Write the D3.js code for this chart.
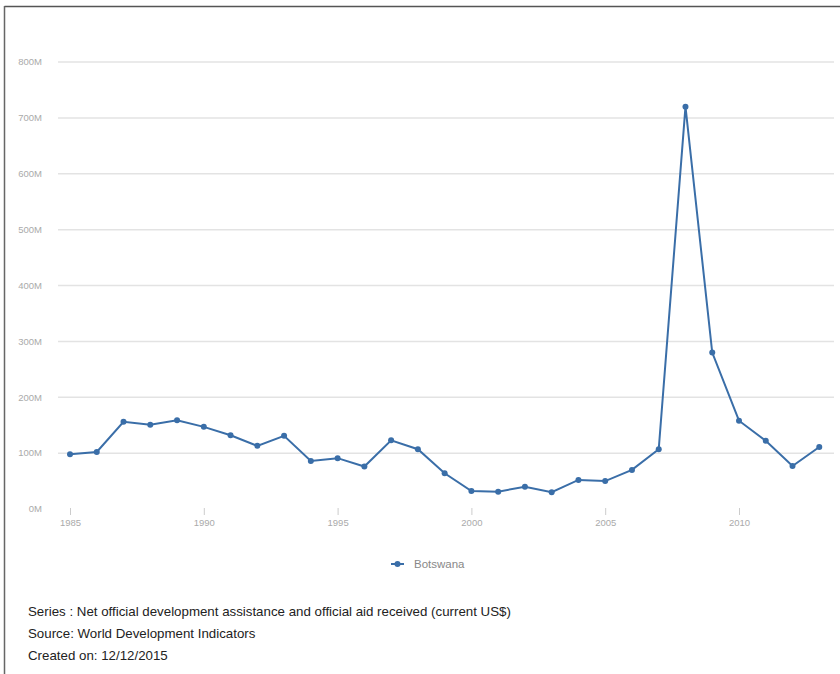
<!DOCTYPE html>
<html><head><meta charset="utf-8">
<script src="https://cdn.jsdelivr.net/npm/d3@7"></script>
<style>body{margin:0;background:#fff;} svg{display:block;}</style>
</head><body>
<svg id="c" width="840" height="674"></svg>
<script>
const years = [1985,1986,1987,1988,1989,1990,1991,1992,1993,1994,1995,1996,1997,1998,1999,2000,2001,2002,2003,2004,2005,2006,2007,2008,2009,2010,2011,2012,2013];
const aidMillions = [98,102,156,151,159,147,132,113,131,86,91,76,123,107,64,32,31,40,30,52,50,70,107,720,280,158,122,77,111];
const yTicks = [0,100,200,300,400,500,600,700,800];
const xTicks = [1985,1990,1995,2000,2005,2010];
const seriesName = "Botswana";
const footer = ["Series : Net official development assistance and official aid received (current US$)","Source: World Development Indicators","Created on: 12/12/2015"];

const svg = d3.select("#c");
const color = "#3a6ea8";
const x = d3.scaleLinear().domain([1985,2010]).range([70,739]);
const y = d3.scaleLinear().domain([0,800]).range([509,62]);

// border (top & left)
svg.append("line").attr("x1",4.5).attr("x2",840).attr("y1",6.5).attr("y2",6.5).attr("stroke","#555").attr("stroke-width",1.5);
svg.append("line").attr("x1",4.5).attr("x2",4.5).attr("y1",6).attr("y2",674).attr("stroke","#666").attr("stroke-width",1.5);

// gridlines
svg.append("g").selectAll("line").data(yTicks.filter(d=>d>0)).join("line")
  .attr("x1",58).attr("x2",834).attr("y1",d=>y(d)).attr("y2",d=>y(d))
  .attr("stroke","#e3e3e3").attr("stroke-width",1.5);

// y labels
svg.append("g").selectAll("text").data(yTicks).join("text")
  .attr("x",42).attr("y",d=>y(d)).attr("dy","0.35em").attr("text-anchor","end")
  .attr("font-family","Liberation Sans, Arial, sans-serif").attr("font-size",9.5).attr("fill","#aaa")
  .text(d=>d+"M");

// x axis ticks
const xAxis = d3.axisBottom(x).tickValues(xTicks).tickFormat(d3.format("d")).tickSize(7).tickPadding(4);
const gx = svg.append("g").attr("transform","translate(0,508)").call(xAxis);
gx.select(".domain").remove();
gx.selectAll(".tick line").attr("stroke","#ccc");
gx.selectAll(".tick text").attr("fill","#aaa").attr("font-size",9.5).attr("font-family","Liberation Sans, Arial, sans-serif");

// line
const data = years.map((yr,i)=>({yr,v:aidMillions[i]}));
svg.append("path").datum(data)
  .attr("d",d3.line().x(d=>x(d.yr)).y(d=>y(d.v)))
  .attr("fill","none").attr("stroke",color).attr("stroke-width",2);
svg.append("g").selectAll("circle").data(data).join("circle")
  .attr("cx",d=>x(d.yr)).attr("cy",d=>y(d.v)).attr("r",3).attr("fill",color);

// legend
const lg = svg.append("g").attr("transform","translate(391,564)");
lg.append("line").attr("x1",0).attr("x2",13).attr("stroke",color).attr("stroke-width",2);
lg.append("circle").attr("cx",6.5).attr("r",3).attr("fill",color);
lg.append("text").attr("x",23).attr("dy","0.35em").attr("font-size",11.5)
  .attr("font-family","Liberation Sans, Arial, sans-serif").attr("fill","#888").text(seriesName);

// footer
svg.append("g").selectAll("text").data(footer).join("text")
  .attr("x",28).attr("y",(d,i)=>611+i*22).attr("dy","0.35em")
  .attr("font-size",13.3).attr("font-family","Liberation Sans, Arial, sans-serif").attr("fill","#222")
  .text(d=>d);
</script>
</body></html>
